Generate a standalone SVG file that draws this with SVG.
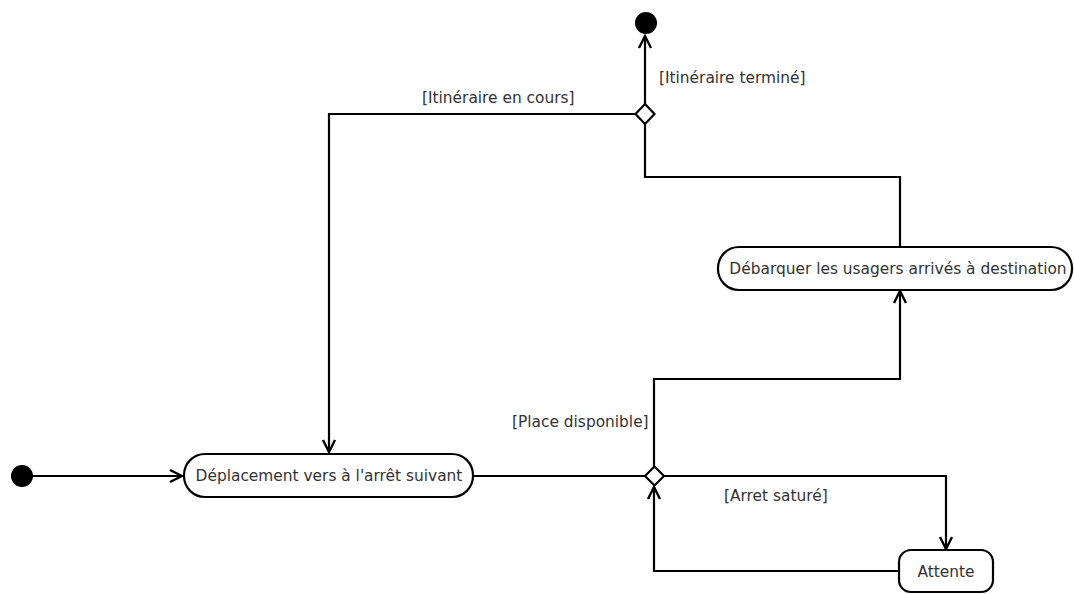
<svg xmlns="http://www.w3.org/2000/svg" width="1074" height="594" viewBox="0 0 1074 594">
<style>
.node rect{fill:#fff;stroke:#000;stroke-width:2.2}
.dec{fill:#fff;stroke:#000;stroke-width:2.2}
.dot{fill:#000}
.edge{fill:none;stroke:#000;stroke-width:2.2}
text{font-family:"DejaVu Sans","Liberation Sans",sans-serif;font-size:15.4px;fill:#333}
</style>
<defs>
<marker id="arr" markerUnits="userSpaceOnUse" markerWidth="16" markerHeight="16" viewBox="0 0 16 16" refX="14" refY="8" orient="auto">
<path d="M2,2 L14,8 L2,14" fill="none" stroke="#000" stroke-width="2.4"/>
</marker>
</defs>
<g id="connectors">
<path class="edge" d="M33,476 L182,476" marker-end="url(#arr)"/>
<path class="edge" d="M473,476 L645,476"/>
<path class="edge" d="M654,467 L654,379 L900,379 L900,291" marker-end="url(#arr)"/>
<path class="edge" d="M664,476 L946,476 L946,549" marker-end="url(#arr)"/>
<path class="edge" d="M899,571 L654,571 L654,487" marker-end="url(#arr)"/>
<path class="edge" d="M900,247 L900,177 L645,177 L645,123"/>
<path class="edge" d="M645,104 L645,36" marker-end="url(#arr)"/>
<path class="edge" d="M636,114 L329,114 L329,452" marker-end="url(#arr)"/>
<text x="659" y="83">[Itinéraire terminé]</text>
<text x="422" y="103">[Itinéraire en cours]</text>
<text x="512" y="427">[Place disponible]</text>
<text x="724" y="501">[Arret saturé]</text>
</g>
<g id="initial"><circle class="dot" cx="22" cy="476" r="11"/></g>
<g id="final"><circle class="dot" cx="646" cy="23" r="11"/></g>
<g id="decision-top"><polygon class="dec" points="645,104 654.5,114 645,124 635.5,114"/></g>
<g id="decision-bottom"><polygon class="dec" points="654.5,466.5 664,476 654.5,485.5 645,476"/></g>
<g id="deplacement" class="node">
<rect x="184" y="454" width="289" height="43" rx="21" ry="21"/>
<text x="329" y="481" text-anchor="middle">Déplacement vers à l'arrêt suivant</text>
</g>
<g id="debarquer" class="node">
<rect x="718" y="247" width="354" height="43" rx="21" ry="21"/>
<text x="898" y="274" text-anchor="middle">Débarquer les usagers arrivés à destination</text>
</g>
<g id="attente" class="node">
<rect x="899" y="550" width="94" height="42" rx="12" ry="12"/>
<text x="946" y="577" text-anchor="middle">Attente</text>
</g>
</svg>
